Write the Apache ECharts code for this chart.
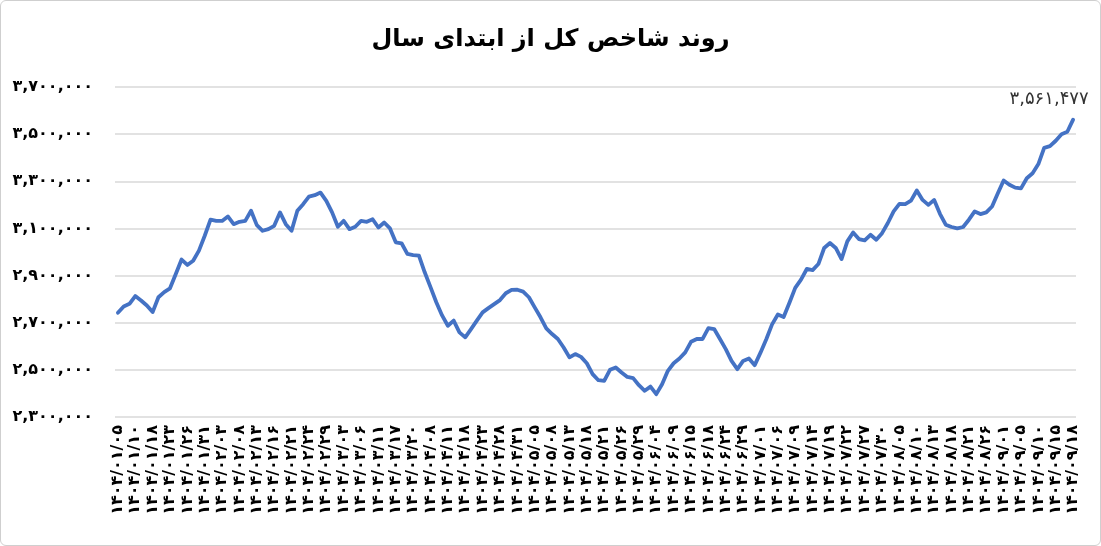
<!DOCTYPE html>
<html>
<head>
<meta charset="utf-8">
<script src="https://cdn.jsdelivr.net/npm/echarts@6/dist/echarts.min.js"></script>
<style>
  html, body { margin: 0; padding: 0; background: #fff; }
  #wrap { position: absolute; left: 0; top: 0; width: 1101px; height: 546px; box-sizing: border-box; border: 1px solid #cfcfcf; border-radius: 6px; }
  #chart { position: absolute; left: 0; top: 0; width: 1101px; height: 546px; }
</style>
</head>
<body>
<div id="wrap"></div>
<div id="chart"></div>
<script>
// ---- data ----
const chartTitle = 'روند شاخص کل از ابتدای سال';

// date labels shown on the axis (one every third trading day)
const dateLabels = [
  '۱۴۰۴/۰۱/۰۵','۱۴۰۴/۰۱/۱۰','۱۴۰۴/۰۱/۱۸','۱۴۰۴/۰۱/۲۳','۱۴۰۴/۰۱/۲۶','۱۴۰۴/۰۱/۳۱',
  '۱۴۰۴/۰۲/۰۳','۱۴۰۴/۰۲/۰۸','۱۴۰۴/۰۲/۱۳','۱۴۰۴/۰۲/۱۶','۱۴۰۴/۰۲/۲۱','۱۴۰۴/۰۲/۲۴','۱۴۰۴/۰۲/۲۹',
  '۱۴۰۴/۰۳/۰۳','۱۴۰۴/۰۳/۰۶','۱۴۰۴/۰۳/۱۱','۱۴۰۴/۰۳/۱۷','۱۴۰۴/۰۳/۲۰',
  '۱۴۰۴/۰۴/۰۸','۱۴۰۴/۰۴/۱۱','۱۴۰۴/۰۴/۱۸','۱۴۰۴/۰۴/۲۳','۱۴۰۴/۰۴/۲۸','۱۴۰۴/۰۴/۳۱',
  '۱۴۰۴/۰۵/۰۵','۱۴۰۴/۰۵/۰۸','۱۴۰۴/۰۵/۱۳','۱۴۰۴/۰۵/۱۸','۱۴۰۴/۰۵/۲۱','۱۴۰۴/۰۵/۲۶','۱۴۰۴/۰۵/۲۹',
  '۱۴۰۴/۰۶/۰۴','۱۴۰۴/۰۶/۰۹','۱۴۰۴/۰۶/۱۵','۱۴۰۴/۰۶/۱۸','۱۴۰۴/۰۶/۲۴','۱۴۰۴/۰۶/۲۹',
  '۱۴۰۴/۰۷/۰۱','۱۴۰۴/۰۷/۰۶','۱۴۰۴/۰۷/۰۹','۱۴۰۴/۰۷/۱۴','۱۴۰۴/۰۷/۱۹','۱۴۰۴/۰۷/۲۲','۱۴۰۴/۰۷/۲۷','۱۴۰۴/۰۷/۳۰',
  '۱۴۰۴/۰۸/۰۵','۱۴۰۴/۰۸/۱۰','۱۴۰۴/۰۸/۱۳','۱۴۰۴/۰۸/۱۸','۱۴۰۴/۰۸/۲۱','۱۴۰۴/۰۸/۲۶',
  '۱۴۰۴/۰۹/۰۱','۱۴۰۴/۰۹/۰۵','۱۴۰۴/۰۹/۱۰','۱۴۰۴/۰۹/۱۵','۱۴۰۴/۰۹/۱۸'
];

// index values, one per trading day
const indexValues = [
  2742000,2769000,2780000,2813000,2794000,2773000,2745000,2808000,2830000,2846000,
  2907000,2968000,2945000,2963000,3006000,3069000,3137000,3132000,3132000,3151000,
  3118000,3128000,3132000,3175000,3114000,3090000,3097000,3111000,3168000,3118000,
  3090000,3175000,3203000,3235000,3241000,3252000,3217000,3168000,3107000,3132000,
  3097000,3107000,3132000,3128000,3139000,3104000,3125000,3100000,3041000,3037000,
  2992000,2987000,2985000,2914000,2851000,2787000,2731000,
  2687000,2709000,2659000,2638000,2673000,2709000,2744000,2762000,2779000,2796000,
  2825000,2839000,2840000,2832000,2808000,2765000,2723000,2676000,2652000,2631000,
  2595000,2553000,2567000,2555000,2528000,2482000,2456000,2453000,2500000,2510000,
  2489000,2470000,2465000,2435000,2411000,2429000,2397000,2439000,2496000,2528000,
  2548000,2574000,2619000,2631000,2631000,2677000,2673000,2631000,2588000,2538000,
  2503000,2538000,
  2548000,2520000,2573000,2630000,2693000,2735000,2724000,2785000,2848000,2883000,
  2928000,2923000,2949000,3017000,3038000,3017000,2970000,3045000,3083000,3055000,
  3049000,3073000,3052000,3080000,3123000,3172000,3204000,3203000,3218000,3261000,
  3221000,3200000,3221000,3162000,3116000,3106000,3100000,3106000,3137000,3172000,
  3161000,3168000,3193000,3249000,3303000,3285000,3273000,3270000,3313000,3334000,
  3373000,3442000,3449000,3472000,3500000,3510000,3561477
];

const yMin = 2300000, yMax = 3700000, yStep = 200000;
const labelEvery = 3;

// ---- helpers ----
const faDigits = '۰۱۲۳۴۵۶۷۸۹';
function toFa(str) { return String(str).replace(/[0-9]/g, d => faDigits[+d]); }
function fmt(n) { return toFa(Math.round(n).toLocaleString('en-US')); }

const categories = indexValues.map((v, i) => (i % labelEvery === 0 ? dateLabels[i / labelEvery] : ''));
const lastIdx = indexValues.length - 1;

const chart = echarts.init(document.getElementById('chart'), null, { renderer: 'canvas' });
chart.setOption({
  animation: false,
  backgroundColor: 'transparent',
  title: {
    text: chartTitle, left: 'center', top: 23,
    textStyle: { fontFamily: 'DejaVu Sans', fontSize: 24, fontWeight: 'bold', color: '#000' }
  },
  grid: { left: 115, right: 25, top: 87, bottom: 129, containLabel: false },
  xAxis: {
    type: 'category', data: categories, boundaryGap: true,
    axisLine: { show: false }, axisTick: { show: false },
    axisLabel: {
      interval: labelEvery - 1, rotate: 90, margin: 8,
      fontFamily: 'DejaVu Sans', fontSize: 16, fontWeight: 'bold', color: '#000'
    }
  },
  yAxis: {
    type: 'value', min: yMin, max: yMax, interval: yStep,
    axisLine: { show: false }, axisTick: { show: false },
    splitLine: { lineStyle: { color: '#d9d9d9', width: 1.5 } },
    axisLabel: {
      margin: 22, formatter: v => fmt(v),
      fontFamily: 'DejaVu Sans', fontSize: 16, fontWeight: 'bold', color: '#000'
    }
  },
  series: [{
    type: 'line', data: indexValues, showSymbol: false, symbol: 'none',
    lineStyle: { color: '#4472C4', width: 3.8, cap: 'round', join: 'round' },
    itemStyle: { color: '#4472C4' },
    markPoint: {
      symbol: 'circle', symbolSize: 0, silent: true,
      data: [{ coord: [lastIdx, indexValues[lastIdx]], value: indexValues[lastIdx] }],
      label: {
        show: true, position: 'top', offset: [-24, -6],
        formatter: p => fmt(p.value),
        fontFamily: 'DejaVu Sans', fontSize: 18, color: '#333'
      }
    }
  }]
});
</script>
</body>
</html>
